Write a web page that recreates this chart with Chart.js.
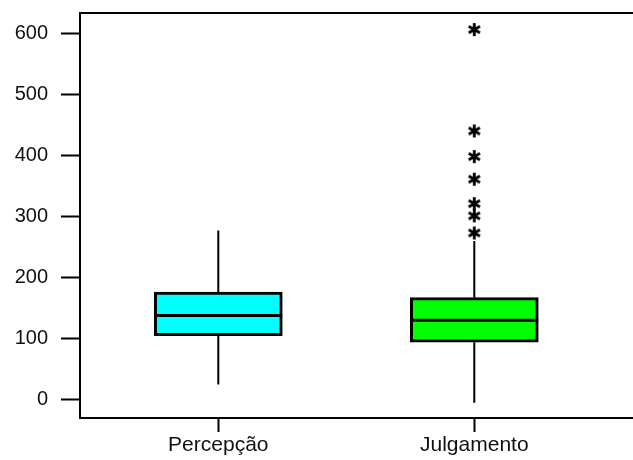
<!DOCTYPE html>
<html>
<head>
<meta charset="utf-8">
<script src="https://cdn.jsdelivr.net/npm/chart.js@4/dist/chart.umd.min.js"></script>
<style>
  html, body { margin: 0; padding: 0; background: #fff; overflow: hidden; }
  #wrap { width: 680px; height: 460px; position: relative; }
</style>
</head>
<body>
<div id="wrap"><canvas id="boxChart"></canvas></div>
<script>
// box plot data
const categories = ["Percepção", "Julgamento"];
const mins    = [25, -5];
const q1s     = [105, 94];
const medians = [138, 130];
const q3s     = [176, 167];
const maxs    = [277, 260];
const outliers = [ [], [273, 301, 321, 361, 398, 440, 606] ];
const boxColors = ["#00ffff", "#00ff00"];
const yTicks = [0, 100, 200, 300, 400, 500, 600];

const FONT = "'Liberation Sans', Arial, Helvetica, sans-serif";

// asterisk marker for outliers
function makeStar() {
    const c = document.createElement("canvas");
    c.width = 15; c.height = 15;
    const g = c.getContext("2d");
    g.strokeStyle = "#000";
    g.lineWidth = 2.8;
    g.beginPath();
    for (let a = 0; a < 3; a++) {
        const ang = Math.PI / 2 + a * Math.PI / 3;
        g.moveTo(7.5 + Math.cos(ang) * 6.5, 7.5 - Math.sin(ang) * 6.5);
        g.lineTo(7.5 - Math.cos(ang) * 6.5, 7.5 + Math.sin(ang) * 6.5);
    }
    g.stroke();
    return c;
}

const outlierPoints = [];
outliers.forEach((list, i) => list.forEach(v => outlierPoints.push({ x: i + 1, y: v })));

// whiskers, medians and the top frame line
const boxExtras = {
    id: "boxExtras",
    afterDatasetsDraw(chart) {
        const ctx = chart.ctx;
        const y = chart.scales.y;
        const meta = chart.getDatasetMeta(0);
        ctx.save();
        ctx.strokeStyle = "#000";
        meta.data.forEach((bar, i) => {
            const half = bar.width / 2;
            ctx.lineWidth = 2;
            ctx.beginPath();
            ctx.moveTo(bar.x, y.getPixelForValue(q3s[i]));
            ctx.lineTo(bar.x, y.getPixelForValue(maxs[i]));
            ctx.moveTo(bar.x, y.getPixelForValue(q1s[i]));
            ctx.lineTo(bar.x, y.getPixelForValue(mins[i]));
            ctx.stroke();
            ctx.lineWidth = 3;
            ctx.beginPath();
            ctx.moveTo(bar.x - half, y.getPixelForValue(medians[i]));
            ctx.lineTo(bar.x + half, y.getPixelForValue(medians[i]));
            ctx.stroke();
        });
        const area = chart.chartArea;
        ctx.lineWidth = 2;
        ctx.beginPath();
        ctx.moveTo(area.left - 1, area.top);
        ctx.lineTo(area.right, area.top);
        ctx.stroke();
        ctx.restore();
    }
};

new Chart(document.getElementById("boxChart"), {
    type: "bar",
    data: {
        datasets: [{
            type: "bar",
            data: categories.map((c, i) => ({ x: i + 1, y: [q1s[i], q3s[i]] })),
            backgroundColor: boxColors,
            borderColor: "#000",
            borderWidth: 3,
            borderSkipped: false,
            barThickness: 128,
            order: 2
        }, {
            type: "scatter",
            data: outlierPoints,
            pointStyle: makeStar(),
            pointRadius: 7,
            order: 1
        }]
    },
    options: {
        responsive: true,
        maintainAspectRatio: false,
        animation: false,
        devicePixelRatio: 1,
        layout: { padding: { top: 13, left: 0, right: 0, bottom: 0 } },
        plugins: { legend: { display: false }, tooltip: { enabled: false } },
        scales: {
            x: {
                type: "linear",
                offset: false,
                min: 0.4598,
                max: 2.7723,
                afterBuildTicks: s => { s.ticks = [{ value: 1 }, { value: 2 }]; },
                afterFit: s => { s.height = 42; },
                grid: { offset: false, drawOnChartArea: false, tickLength: 14, tickColor: "#000", tickWidth: 2 },
                border: { display: true, color: "#000", width: 2 },
                ticks: {
                    callback: v => categories[v - 1],
                    color: "#111",
                    padding: 1,
                    maxRotation: 0,
                    font: { family: FONT, size: 21 }
                }
            },
            y: {
                min: -30,
                max: 633,
                afterBuildTicks: s => { s.ticks = yTicks.map(v => ({ value: v })); },
                afterFit: s => { s.width = 80; },
                grid: { drawOnChartArea: false, tickLength: 19, tickColor: "#000", tickWidth: 2 },
                border: { display: true, color: "#000", width: 2 },
                ticks: {
                    color: "#111",
                    padding: 13,
                    font: { family: FONT, size: 20, lineHeight: 0.01 }
                }
            }
        }
    },
    plugins: [boxExtras]
});
</script>
</body>
</html>
